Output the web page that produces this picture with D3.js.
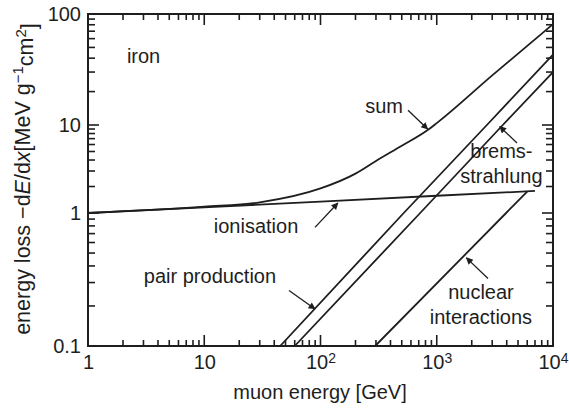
<!DOCTYPE html>
<html>
<head>
<meta charset="utf-8">
<script src="https://cdn.jsdelivr.net/npm/d3@7"></script>
<style>
  body { margin: 0; background: #fff; }
  text { font-family: "Liberation Sans", Arial, sans-serif; fill: #1e1e1e; }
</style>
</head>
<body>
<div id="chart"></div>
<script>
// values: muon energy in GeV, energy loss in MeV g^-1 cm^2
const ionEnergy = [1, 10, 100, 1000, 7000];
const ionLoss = [1.0, 1.16, 1.35, 1.57, 1.78];

const sumEnergy = [1, 10, 30, 100, 200, 300, 500, 830, 1000, 3000, 10000];
const sumLoss = [1.0, 1.18, 1.32, 1.9, 2.8, 3.9, 5.8, 8.7, 10.4, 28, 81];

const pairEnergy = [45, 520, 2700, 10000];
const pairLoss = [0.1, 1, 10, 43];

const bremsEnergy = [60, 720, 3700, 10000];
const bremsLoss = [0.1, 1, 10, 30];

const nuclEnergy = [295, 3950, 6000];
const nuclLoss = [0.1, 1, 1.75];

const xMajor = [1, 10, 100, 1000, 10000];
const yMajor = [0.1, 1, 10, 100];

(function() {
  const width = 569;
  const height = 408;
  const ink = "#1e1e1e";

  const svg = d3.select("#chart")
    .append("svg")
    .attr("width", width)
    .attr("height", height);

  const x = d3.scaleLog().domain([1, 10000]).range([88, 553]);
  // the printed y axis is not evenly spaced, so the decades are set one by one
  const y = d3.scaleLog().domain([0.1, 1, 10, 100]).range([346, 213, 125, 14]);

  const left = 88, right = 553, top = 14, bottom = 346;

  function zip(es, vs) {
    return es.map(function(e, i) { return {e: e, v: vs[i]}; });
  }

  // tick marks on all four sides, pointing inwards
  const xMinor = x.ticks().filter(function(t) { return xMajor.indexOf(t) < 0; });
  const yMinor = y.ticks().filter(function(t) { return yMajor.indexOf(t) < 0; });

  const tickG = svg.append("g");

  function xTicks(values, len) {
    tickG.append("g").selectAll("line")
      .data(values.concat(values))
      .join("line")
      .attr("x1", function(d) { return x(d); })
      .attr("x2", function(d) { return x(d); })
      .attr("y1", function(d, i) { return i < values.length ? bottom : top; })
      .attr("y2", function(d, i) { return i < values.length ? bottom - len : top + len; })
      .attr("stroke", ink)
      .attr("stroke-width", 1.6);
  }

  function yTicks(values, len) {
    tickG.append("g").selectAll("line")
      .data(values.concat(values))
      .join("line")
      .attr("y1", function(d) { return y(d); })
      .attr("y2", function(d) { return y(d); })
      .attr("x1", function(d, i) { return i < values.length ? left : right; })
      .attr("x2", function(d, i) { return i < values.length ? left + len : right - len; })
      .attr("stroke", ink)
      .attr("stroke-width", 1.6);
  }

  xTicks(xMinor, 6);
  xTicks(xMajor, 11);
  yTicks(yMinor, 7);
  yTicks(yMajor, 11);

  // tick labels from d3 axes
  const xAxis = svg.append("g")
    .attr("transform", "translate(0," + bottom + ")")
    .call(d3.axisBottom(x).tickValues(xMajor).tickSize(0).tickPadding(9));
  xAxis.select(".domain").remove();
  xAxis.selectAll(".tick text")
    .attr("font-size", 20)
    .attr("font-family", "Liberation Sans, Arial, sans-serif")
    .attr("fill", ink)
    .each(function(d) {
      const t = d3.select(this);
      const p = Math.round(Math.log10(d));
      if (p >= 2) {
        t.text("10");
        t.append("tspan").attr("dy", "-0.45em").attr("font-size", 14).text(p);
      } else {
        t.text(d);
      }
    });

  const yAxis = svg.append("g")
    .attr("transform", "translate(" + left + ",0)")
    .call(d3.axisLeft(y).tickValues(yMajor).tickSize(0).tickPadding(7));
  yAxis.select(".domain").remove();
  yAxis.selectAll(".tick text")
    .attr("font-size", 20)
    .attr("font-family", "Liberation Sans, Arial, sans-serif")
    .attr("fill", ink)
    .text(function(d) { return d; });

  svg.append("rect")
    .attr("x", left).attr("y", top)
    .attr("width", right - left).attr("height", bottom - top)
    .attr("fill", "none")
    .attr("stroke", ink)
    .attr("stroke-width", 2);

  // curves
  const line = d3.line()
    .x(function(d) { return x(d.e); })
    .y(function(d) { return y(d.v); });

  const curves = [
    {data: zip(ionEnergy, ionLoss), curve: d3.curveLinear},
    {data: zip(sumEnergy, sumLoss), curve: d3.curveMonotoneX},
    {data: zip(pairEnergy, pairLoss), curve: d3.curveLinear},
    {data: zip(bremsEnergy, bremsLoss), curve: d3.curveLinear},
    {data: zip(nuclEnergy, nuclLoss), curve: d3.curveLinear}
  ];

  svg.append("g").selectAll("path")
    .data(curves)
    .join("path")
    .attr("d", function(c) { return line.curve(c.curve)(c.data); })
    .attr("fill", "none")
    .attr("stroke", ink)
    .attr("stroke-width", 1.8);

  // labels and arrows, placed in data units
  const notes = [
    {text: ["iron"], e: 2.16, v: 36, anchor: "start"},
    {text: ["sum"], e: 513, v: 12.8, anchor: "end"},
    {text: ["brems-", "strahlung"], e: 3600, v: 4.2, anchor: "middle"},
    {text: ["ionisation"], e: 27.9, v: 0.705, anchor: "middle"},
    {text: ["pair production"], e: 11.2, v: 0.3, anchor: "middle"},
    {text: ["nuclear", "interactions"], e: 2400, v: 0.227, anchor: "middle"}
  ];

  notes.forEach(function(n) {
    const t = svg.append("text")
      .attr("x", x(n.e))
      .attr("y", y(n.v))
      .attr("font-size", 20)
      .attr("text-anchor", n.anchor);
    n.text.forEach(function(s, i) {
      t.append("tspan")
        .attr("x", x(n.e))
        .attr("dy", i === 0 ? 0 : 25)
        .text(s);
    });
  });

  const arrows = [
    {from: [566, 13.6], to: [835, 9.0]},
    {from: [4900, 6.24], to: [3480, 9.6]},
    {from: [89.7, 0.78], to: [141, 1.3]},
    {from: [53.6, 0.261], to: [89.7, 0.19]},
    {from: [2760, 0.322], to: [1800, 0.46]}
  ];

  svg.append("defs").append("marker")
    .attr("id", "head")
    .attr("viewBox", "0 0 10 10")
    .attr("refX", 9).attr("refY", 5)
    .attr("markerWidth", 9).attr("markerHeight", 7)
    .attr("markerUnits", "userSpaceOnUse")
    .attr("orient", "auto")
    .append("path")
    .attr("d", "M0,0L10,5L0,10Z")
    .attr("fill", ink);

  svg.append("g").selectAll("line")
    .data(arrows)
    .join("line")
    .attr("x1", function(a) { return x(a.from[0]); })
    .attr("y1", function(a) { return y(a.from[1]); })
    .attr("x2", function(a) { return x(a.to[0]); })
    .attr("y2", function(a) { return y(a.to[1]); })
    .attr("stroke", ink)
    .attr("stroke-width", 1.3)
    .attr("marker-end", "url(#head)");

  // axis titles
  svg.append("text")
    .attr("x", 320)
    .attr("y", 399)
    .attr("font-size", 20)
    .attr("text-anchor", "middle")
    .text("muon energy [GeV]");

  const yt = svg.append("text")
    .attr("transform", "translate(30,179) rotate(-90)")
    .attr("font-size", 21.5)
    .attr("text-anchor", "middle");
  yt.append("tspan").text("energy loss \u2212d");
  yt.append("tspan").attr("font-style", "italic").text("E");
  yt.append("tspan").text("/d");
  yt.append("tspan").attr("font-style", "italic").text("x");
  yt.append("tspan").text("[MeV g");
  yt.append("tspan").attr("dy", "-0.45em").attr("font-size", 15).text("\u22121");
  yt.append("tspan").attr("dy", "0.45em").text("cm");
  yt.append("tspan").attr("dy", "-0.45em").attr("font-size", 15).text("2");
  yt.append("tspan").attr("dy", "0.45em").text("]");
}());
</script>
</body>
</html>
